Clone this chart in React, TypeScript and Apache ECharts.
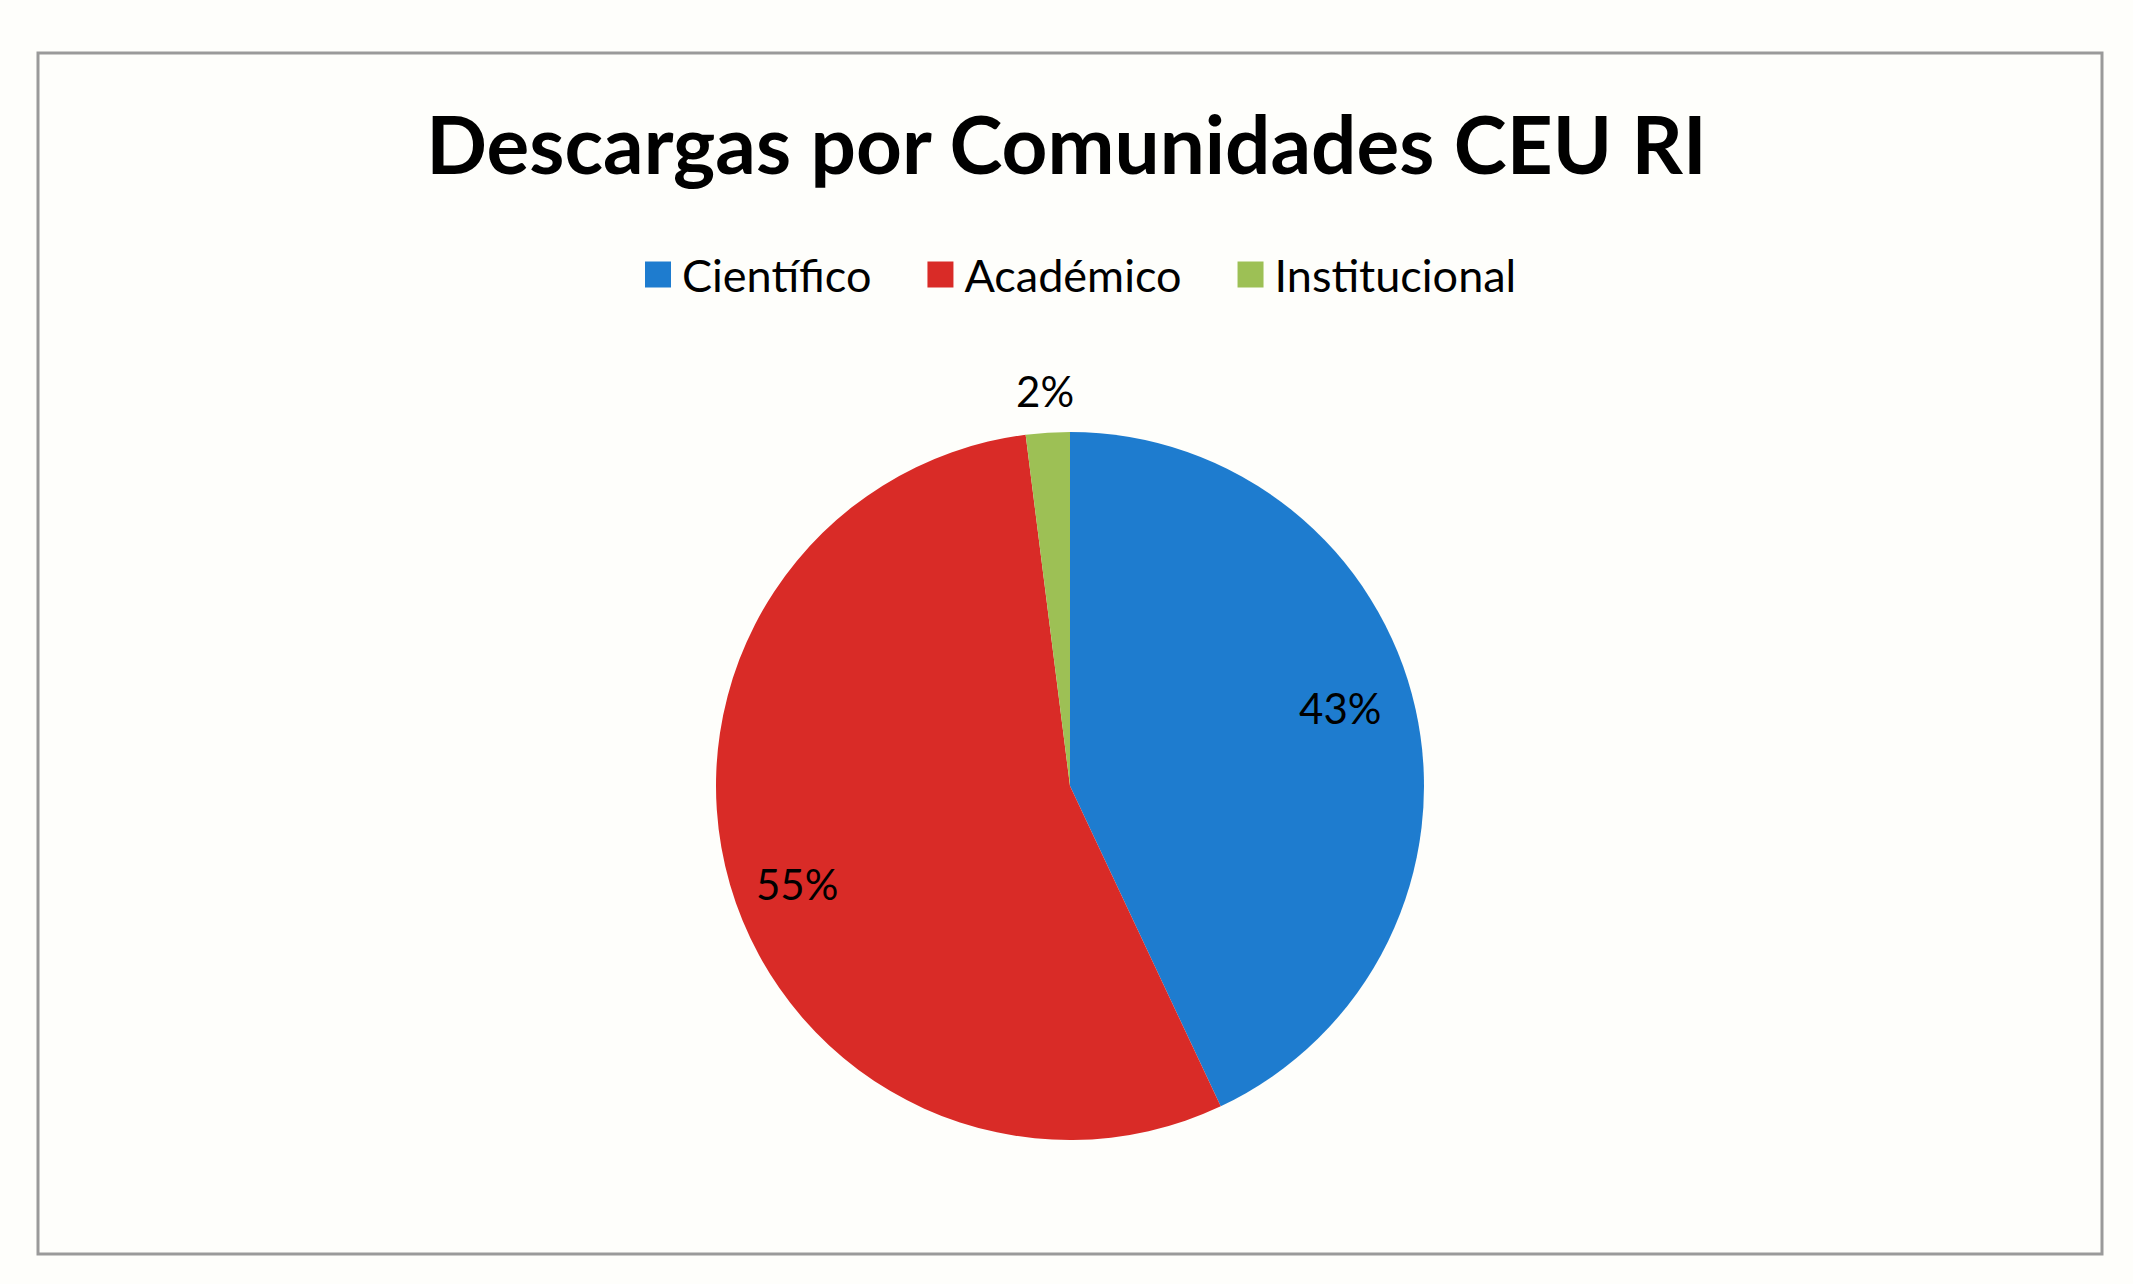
import React, { useEffect, useRef } from "react";
import * as echarts from "echarts";

const TITLE = "Descargas por Comunidades CEU RI";
const categories = ["Científico", "Académico", "Institucional"];
const values = [43, 55, 2];
const colors = ["#1E7CCF", "#D92B27", "#9DC055"];

const FONT = "Lato, 'Open Sans', sans-serif";

export default function App() {
  const ref = useRef<HTMLDivElement>(null);
  useEffect(() => {
    if (!ref.current) return;
    const chart = echarts.init(ref.current, null, { renderer: "svg" });
    const cx = 1070;
    const cy = 786;
    const R = 354;
    const baseData = categories.map((name, i) => ({
      name,
      value: values[i],
      itemStyle: { color: colors[i] },
    }));
    const labelStyle = {
      color: "#000",
      fontSize: 42,
      fontFamily: FONT,
    };
    const option: any = {
      animation: false,
      backgroundColor: "#fefefb",
      title: {
        text: TITLE,
        left: "center",
        top: 98,
        textStyle: {
          fontSize: 80,
          fontWeight: "bold",
          fontFamily: FONT,
          color: "#000",
        },
      },
      legend: {
        data: categories,
        top: 252,
        left: 645,
        padding: 0,
        icon: "rect",
        itemWidth: 26,
        itemHeight: 26,
        itemGap: 56,
        textStyle: {
          fontSize: 45,
          fontFamily: FONT,
          color: "#000",
          padding: [0, 0, 0, 6],
        },
      },
      graphic: [
        {
          type: "rect",
          shape: { x: 38, y: 53, width: 2064, height: 1201 },
          style: { fill: "none", stroke: "#9a9a9a", lineWidth: 3 },
          silent: true,
        },
      ],
      series: [
        {
          type: "pie",
          center: [cx, cy],
          radius: [0, R],
          startAngle: 90,
          clockwise: true,
          data: baseData,
          label: { show: false },
          labelLine: { show: false },
          itemStyle: { borderWidth: 0 },
          emphasis: { disabled: true },
        },
        {
          type: "pie",
          center: [cx, cy],
          radius: [R * 0.6, R],
          startAngle: 90,
          clockwise: true,
          silent: true,
          legendHoverLink: false,
          data: categories.map((name, i) => ({
            name,
            value: values[i],
            itemStyle: { color: "rgba(0,0,0,0)" },
            label: {
              show: i !== 2,
              offset: i === 0 ? [-9, -16] : i === 1 ? [2, 18] : [0, 0],
            },
          })),
          label: { position: "inside", formatter: "{d}%", ...labelStyle },
          labelLine: { show: false },
          emphasis: { disabled: true },
        },
        {
          type: "pie",
          center: [cx, cy],
          radius: [R, R + 78],
          startAngle: 90,
          clockwise: true,
          silent: true,
          legendHoverLink: false,
          data: categories.map((name, i) => ({
            name,
            value: values[i],
            itemStyle: { color: "rgba(0,0,0,0)" },
            label: { show: i === 2 },
          })),
          label: { position: "inside", formatter: "{d}%", ...labelStyle },
          labelLine: { show: false },
          emphasis: { disabled: true },
        },
      ],
    };
    chart.setOption(option);
    return () => chart.dispose();
  }, []);
  return (
    <div
      ref={ref}
      style={{ position: "fixed", left: 0, top: 0, width: 2133, height: 1284 }}
    />
  );
}
